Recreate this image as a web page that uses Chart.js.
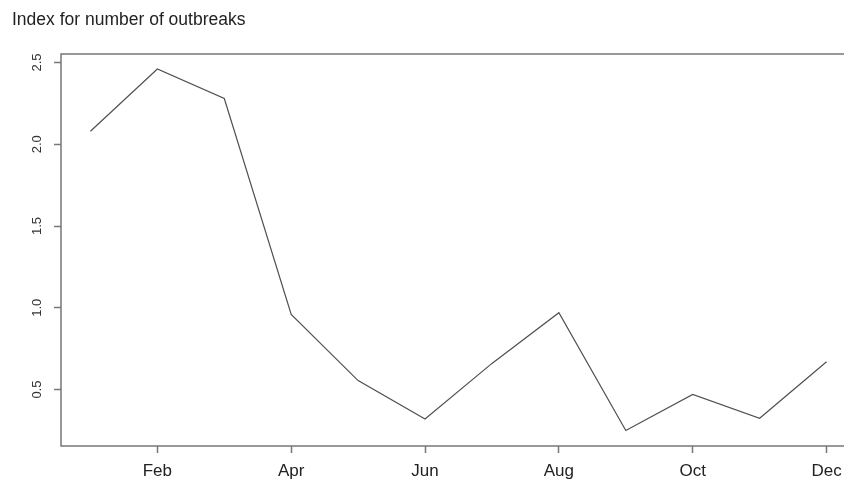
<!DOCTYPE html>
<html>
<head>
<meta charset="utf-8">
<script src="https://cdn.jsdelivr.net/npm/chart.js@4/dist/chart.umd.min.js"></script>
<style>
  html, body { margin: 0; padding: 0; background: #fff; overflow: hidden; }
  #wrap { position: relative; width: 870px; height: 480px; }
</style>
</head>
<body>
<div id="wrap"><canvas id="chart"></canvas></div>
<script>
const months = ['Jan', 'Feb', 'Mar', 'Apr', 'May', 'Jun', 'Jul', 'Aug', 'Sep', 'Oct', 'Nov', 'Dec'];
const outbreakIndex = [2.08, 2.46, 2.28, 0.96, 0.555, 0.32, 0.66, 0.97, 0.25, 0.47, 0.325, 0.67];
const xTickMonths = [2, 4, 6, 8, 10, 12];
const yTickValues = [0.5, 1.0, 1.5, 2.0, 2.5];
const chartTitle = 'Index for number of outbreaks';

const axisColor = '#777';
const fontFamily = '"Liberation Sans", Arial, sans-serif';

// R-style plot box plus the title in the top left corner
const boxPlugin = {
    id: 'box',
    afterDraw(chart) {
        const { ctx, chartArea: a } = chart;
        ctx.save();
        ctx.strokeStyle = axisColor;
        ctx.lineWidth = 1.5;
        ctx.strokeRect(a.left, a.top, a.right - a.left, a.bottom - a.top);
        ctx.fillStyle = '#222';
        ctx.font = '17.5px ' + fontFamily;
        ctx.textBaseline = 'middle';
        ctx.fillText(chartTitle, 12, 20);
        ctx.restore();
    }
};

new Chart(document.getElementById('chart'), {
    type: 'line',
    data: {
        datasets: [{
            data: outbreakIndex.map((v, i) => ({ x: i + 1, y: v })),
            borderColor: '#505050',
            borderWidth: 1.2,
            pointRadius: 0,
            tension: 0
        }]
    },
    options: {
        responsive: true,
        maintainAspectRatio: false,
        animation: false,
        layout: { padding: { top: 54, left: 0, right: 14, bottom: 0 } },
        plugins: { legend: { display: false }, title: { display: false }, tooltip: { enabled: false } },
        scales: {
            x: {
                type: 'linear',
                min: 0.56,
                max: 12.44,
                afterBuildTicks: s => { s.ticks = xTickMonths.map(v => ({ value: v })); },
                afterFit: s => { s.height = 34; },
                ticks: {
                    callback: v => months[v - 1],
                    color: '#222',
                    font: { size: 17, family: fontFamily },
                    padding: 8,
                    maxRotation: 0,
                    autoSkip: false
                },
                grid: { drawOnChartArea: false, tickLength: 7, tickColor: axisColor, tickWidth: 1.5 },
                border: { display: false }
            },
            y: {
                min: 0.155,
                max: 2.552,
                afterBuildTicks: s => { s.ticks = yTickValues.map(v => ({ value: v })); },
                afterFit: s => { s.width = 61; },
                ticks: {
                    callback: v => v.toFixed(1),
                    color: '#333',
                    font: { size: 13, family: fontFamily },
                    minRotation: 90,
                    maxRotation: 90,
                    crossAlign: 'center',
                    padding: 8
                },
                grid: { drawOnChartArea: false, tickLength: 7, tickColor: axisColor, tickWidth: 1.5 },
                border: { display: false }
            }
        }
    },
    plugins: [boxPlugin]
});
</script>
</body>
</html>
